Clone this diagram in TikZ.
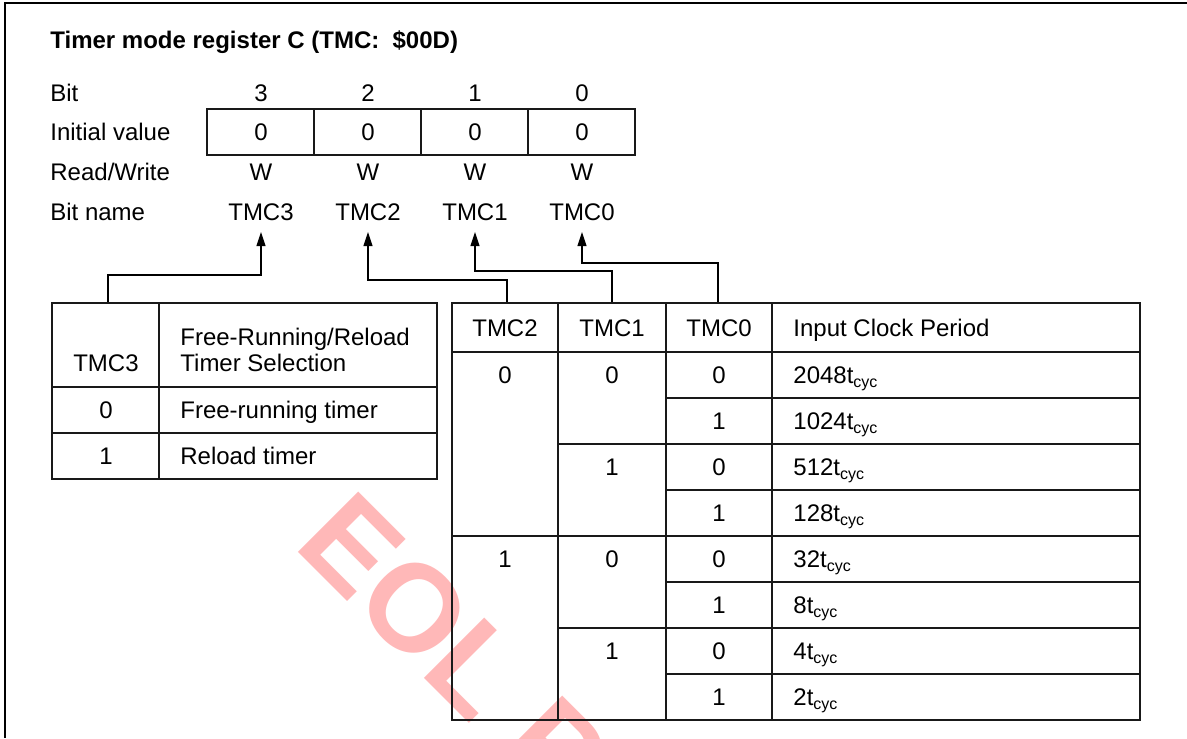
\documentclass[tikz,border=0pt]{standalone}
\usepackage{fontspec}
\setmainfont{Liberation Sans}
\usepackage{tikz}
\usetikzlibrary{arrows.meta}

\tikzset{
  txt/.style={inner sep=0pt, text height=8.6pt, text depth=0pt},
  lbl/.style={txt, anchor=west},
  bn/.style={txt, inner ysep=5.5pt},
  grid/.style={line width=0.55pt, draw=black!90},
  sel/.style={line width=0.55pt, -{Triangle[length=7pt,width=4.5pt]}},
}

\begin{document}
\begin{tikzpicture}[x=0.5pt, y=-0.5pt, font=\fontsize{12}{13}\selectfont]
    \useasboundingbox (0,0) rectangle (1187,738);
    \fill[white] (0,0) rectangle (1187,738);

    % watermark
    \begin{scope}
        \clip (0,0) rectangle (1187,738);
        \node[rotate=-45, anchor=base west, inner sep=0pt, text=red!28,
              font=\fontsize{62}{62}\selectfont\bfseries] (eol) at (292,546) {EOL PRODUCT};
    \end{scope}

    % frame
    \draw[line width=0.8pt] (1187,3) -- (5,3) -- (5,738);

    % title
    \node[lbl, font=\fontsize{12}{13}\selectfont\bfseries] (title) at (50,40) {Timer mode register C (TMC:\ \ \$00D)};

    % register rows
    \node[lbl] (bit) at (50,93) {Bit};
    \node[lbl] (init) at (50,132) {Initial value};
    \node[lbl] (rw) at (50,172) {Read/Write};
    \node[lbl] (name) at (50,212) {Bit name};

    \draw[grid] (207,109) rectangle (635,155);
    \draw[grid] (314,109) -- (314,155) (421,109) -- (421,155) (528,109) -- (528,155);

    \node[txt] (b3) at (261,93) {3};
    \node[txt] (b2) at (368,93) {2};
    \node[txt] (b1) at (475,93) {1};
    \node[txt] (b0) at (582,93) {0};
    \node[txt] (v3) at (261,132) {0};
    \node[txt] (v2) at (368,132) {0};
    \node[txt] (v1) at (475,132) {0};
    \node[txt] (v0) at (582,132) {0};
    \node[txt] (w3) at (261,172) {W};
    \node[txt] (w2) at (368,172) {W};
    \node[txt] (w1) at (475,172) {W};
    \node[txt] (w0) at (582,172) {W};
    \node[bn] (n3) at (261,212) {TMC3};
    \node[bn] (n2) at (368,212) {TMC2};
    \node[bn] (n1) at (475,212) {TMC1};
    \node[bn] (n0) at (582,212) {TMC0};

    % selection lines
    \coordinate (tap3) at (108,303);
    \coordinate (tap2) at (507,303);
    \coordinate (tap1) at (612,303);
    \coordinate (tap0) at (718,303);
    \draw[sel] (tap3) -- ++(0,-28) -| (n3);
    \draw[sel] (tap2) -- ++(0,-23) -| (n2);
    \draw[sel] (tap1) -- ++(0,-32) -| (n1);
    \draw[sel] (tap0) -- ++(0,-40) -| (n0);

    % TMC3 table
    \draw[grid] (52,303) rectangle (437,479);
    \draw[grid] (159,303) -- (159,479);
    \draw[grid] (52,387) -- (437,387) (52,433) -- (437,433);
    \node[txt] (h3) at (106,363) {TMC3};
    \node[inner sep=0pt, anchor=west, align=left] (hsel) at (180,350) {Free-Running/Reload\\Timer Selection};
    \node[txt] (s0) at (106,410) {0};
    \node[lbl] (free) at (180,410) {Free-running timer};
    \node[txt] (s1) at (106,456) {1};
    \node[lbl] (reload) at (180,456) {Reload timer};

    % TMC2..TMC0 table
    \draw[grid] (452,303) rectangle (1140,720);
    \draw[grid] (558,303) -- (558,720) (666,303) -- (666,720) (772,303) -- (772,720);
    \draw[grid] (452,352) -- (1140,352) (452,536) -- (1140,536);
    \draw[grid] (558,444) -- (1140,444) (558,628) -- (1140,628);
    \draw[grid] (666,398) -- (1140,398) (666,490) -- (1140,490)
                (666,582) -- (1140,582) (666,674) -- (1140,674);

    \node[txt] (h2) at (505,328) {TMC2};
    \node[txt] (h1) at (612,328) {TMC1};
    \node[txt] (h0) at (719,328) {TMC0};
    \node[lbl] (hclk) at (793,328) {Input Clock Period};

    \node[txt] (p2a) at (505,375) {0};
    \node[txt] (p2b) at (505,559) {1};
    \node[txt] (p1a) at (612,375) {0};
    \node[txt] (p1b) at (612,467) {1};
    \node[txt] (p1c) at (612,559) {0};
    \node[txt] (p1d) at (612,651) {1};
    \node[txt] (p0a) at (719,375) {0};
    \node[txt] (p0b) at (719,421) {1};
    \node[txt] (p0c) at (719,467) {0};
    \node[txt] (p0d) at (719,513) {1};
    \node[txt] (p0e) at (719,559) {0};
    \node[txt] (p0f) at (719,605) {1};
    \node[txt] (p0g) at (719,651) {0};
    \node[txt] (p0h) at (719,697) {1};

    \node[lbl] (c1) at (793,375) {2048t\textsubscript{cyc}};
    \node[lbl] (c2) at (793,421) {1024t\textsubscript{cyc}};
    \node[lbl] (c3) at (793,467) {512t\textsubscript{cyc}};
    \node[lbl] (c4) at (793,513) {128t\textsubscript{cyc}};
    \node[lbl] (c5) at (793,559) {32t\textsubscript{cyc}};
    \node[lbl] (c6) at (793,605) {8t\textsubscript{cyc}};
    \node[lbl] (c7) at (793,651) {4t\textsubscript{cyc}};
    \node[lbl] (c8) at (793,697) {2t\textsubscript{cyc}};
\end{tikzpicture}
\end{document}
